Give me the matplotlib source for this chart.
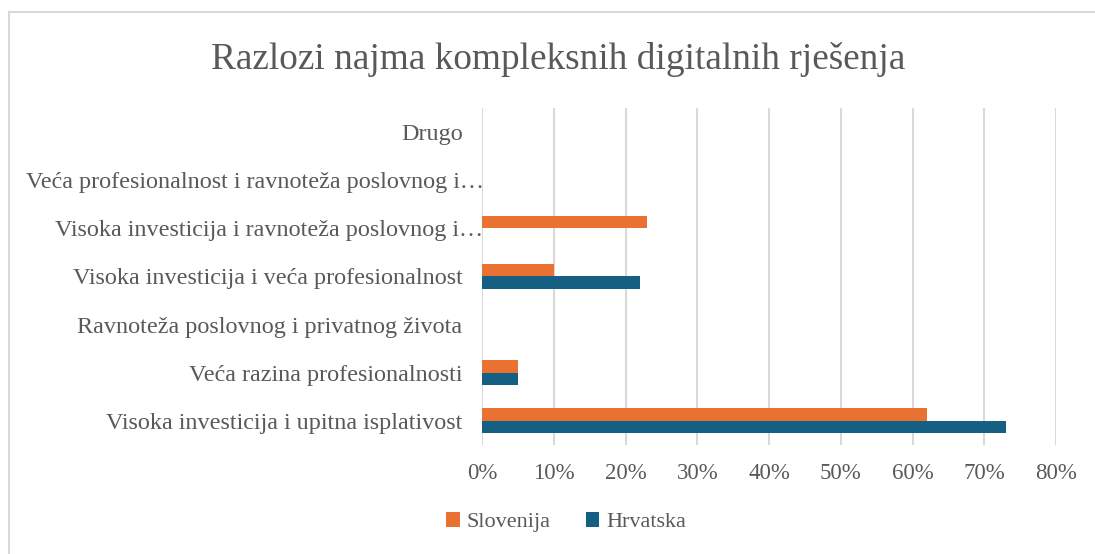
import matplotlib.pyplot as plt
import matplotlib.transforms as mtransforms
from matplotlib.lines import Line2D
from matplotlib.patches import Patch
import numpy as np

categories = [
    "Visoka investicija i upitna isplativost",
    "Veća razina profesionalnosti",
    "Ravnoteža poslovnog i privatnog života",
    "Visoka investicija i veća profesionalnost",
    "Visoka investicija i ravnoteža poslovnog i…",
    "Veća profesionalnost i ravnoteža poslovnog i…",
    "Drugo",
]
slovenija = [62, 5, 0, 10, 23, 0, 0]
hrvatska = [73, 5, 0, 22, 0, 0, 0]
xticks = [0, 10, 20, 30, 40, 50, 60, 70, 80]

orange = "#E97132"
blue = "#156082"
text_col = "#595959"
grid_col = "#d9d9d9"

plt.rcParams["font.family"] = ["Liberation Serif", "DejaVu Serif"]

fig = plt.figure(figsize=(10.95, 5.54), dpi=100)
ax = fig.add_axes([0.4402, 0.197, 0.5242, 0.608])

y = np.arange(len(categories))
h = 0.26
ax.barh(y + h / 2, slovenija, height=h, color=orange, label="Slovenija", zorder=3)
ax.barh(y - h / 2, hrvatska, height=h, color=blue, label="Hrvatska", zorder=3)

ax.set_xlim(0, 80)
ax.set_ylim(-0.5, len(categories) - 0.5)
ax.set_xticks(xticks)
ax.set_xticklabels([f"{v}%" for v in xticks])
ax.set_yticks(y)
ax.set_yticklabels(categories)
ax.tick_params(axis="both", length=0, colors=text_col)
ax.tick_params(axis="x", pad=13, labelsize=16.5)
ax.tick_params(axis="y", pad=14, labelsize=17.4)
ax.grid(axis="x", color=grid_col, linewidth=1.5, zorder=0)
for s in ax.spines.values():
    s.set_visible(False)

# truncated labels run a little closer to the axis
shift = mtransforms.ScaledTranslation(0.21, 0, fig.dpi_scale_trans)
for lbl in ax.get_yticklabels():
    if lbl.get_text().endswith("…"):
        lbl.set_transform(lbl.get_transform() + shift)

fig.suptitle("Razlozi najma kompleksnih digitalnih rješenja", x=0.51, y=0.925,
             fontsize=26.8, color=text_col)

handles = [Patch(facecolor=orange, label="Slovenija"),
           Patch(facecolor=blue, label="Hrvatska")]
fig.legend(handles=handles, loc="center", bbox_to_anchor=(0.517, 0.057), ncol=2,
           frameon=False, fontsize=16, handlelength=0.6, handleheight=0.6,
           handletextpad=0.3, columnspacing=1.6, labelcolor=text_col)

# chart area border (left and top edges visible)
fig.add_artist(Line2D([0.0085, 0.0085], [0, 0.978], color=grid_col, lw=1.5))
fig.add_artist(Line2D([0.0085, 1.0], [0.978, 0.978], color=grid_col, lw=1.5))

fig.savefig("out.png", dpi=100)
